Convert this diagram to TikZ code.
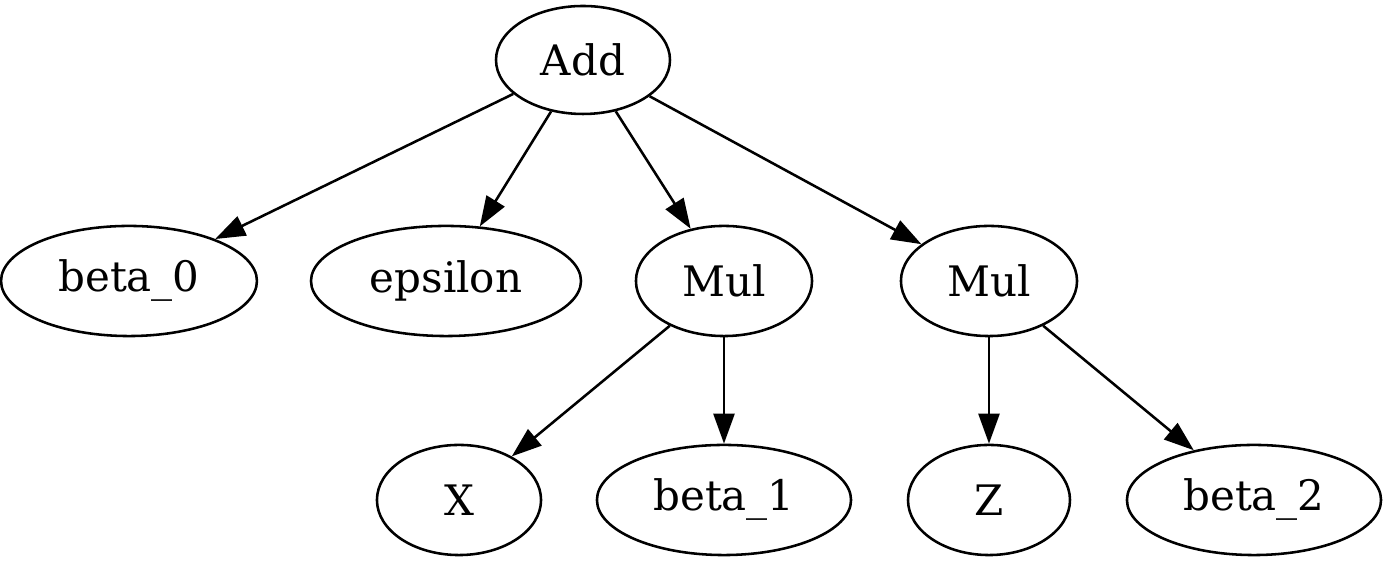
\documentclass[tikz,border=0pt]{standalone}
\usepackage{fontspec}
\setmainfont{DejaVu Serif}
\usetikzlibrary{shapes.geometric,arrows.meta}
\begin{document}
\begin{tikzpicture}[x=0.33333pt,y=-0.33333pt,
  gnode/.style={draw,ellipse,line width=0.85pt,inner sep=0pt,font=\fontsize{14}{17}\selectfont},
  gedge/.style={line width=0.85pt,-{Triangle[length=10pt,width=7pt]}}]
\useasboundingbox (0,0) rectangle (1386,564);
\node[gnode,minimum width=58pt,minimum height=36pt] (add) at (583,60) {Add};
\node[gnode,minimum width=85.3pt,minimum height=36.7pt] (b0) at (129,281) {beta\_0};
\node[gnode,minimum width=90pt,minimum height=36.7pt] (eps) at (446,281) {epsilon};
\node[gnode,minimum width=58.7pt,minimum height=36.7pt] (m1) at (724,281) {Mul};
\node[gnode,minimum width=58.7pt,minimum height=36.7pt] (m2) at (989,281) {Mul};
\node[gnode,minimum width=54.7pt,minimum height=36.7pt] (x) at (459,500) {X};
\node[gnode,minimum width=84.7pt,minimum height=36.7pt] (b1) at (724,500) {beta\_1};
\node[gnode,minimum width=54pt,minimum height=36.7pt] (z) at (989,500) {Z};
\node[gnode,minimum width=84.7pt,minimum height=36.7pt] (b2) at (1254,500) {beta\_2};
\draw[gedge] (add) -- (b0);
\draw[gedge] (add) -- (eps);
\draw[gedge] (add) -- (m1);
\draw[gedge] (add) -- (m2);
\draw[gedge] (m1) -- (x);
\draw[gedge] (m1) -- (b1);
\draw[gedge] (m2) -- (z);
\draw[gedge] (m2) -- (b2);
\end{tikzpicture}
\end{document}
